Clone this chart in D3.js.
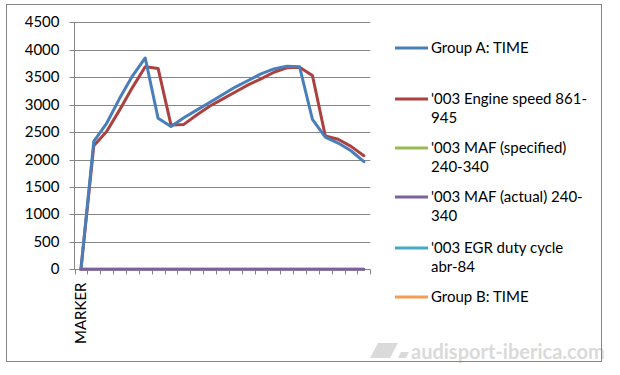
<!DOCTYPE html>
<html><head><meta charset="utf-8">
<script src="https://cdn.jsdelivr.net/npm/d3@7"></script>
<style>body{margin:0;background:#fff}svg{display:block}text{font-family:Lato,"Open Sans",sans-serif}</style>
</head><body><svg id="c" width="620" height="375"></svg>
<script>
const categories = ["MARKER","","","","","","","","","","","","","","","","","","","","","",""];
const groupATime = [0,2330,2660,3110,3520,3850,2750,2600,2760,2900,3040,3180,3320,3440,3560,3650,3700,3690,2730,2410,2300,2160,1960];
const engineSpeed = [0,2250,2510,2900,3310,3690,3660,2630,2640,2810,2970,3100,3230,3360,3470,3590,3670,3680,3530,2430,2370,2240,2070];
const mafSpecified = [0,0,0,0,0,0,0,0,0,0,0,0,0,0,0,0,0,0,0,0,0,0,0];
const mafActual = [0,0,0,0,0,0,0,0,0,0,0,0,0,0,0,0,0,0,0,0,0,0,0];
const egrDuty = [];
const groupBTime = [];
const yTicks = [0,500,1000,1500,2000,2500,3000,3500,4000,4500];
const seriesNames = ["Group A: TIME","'003 Engine speed 861-|945","'003 MAF (specified)|240-340","'003 MAF (actual) 240-|340","'003 EGR duty cycle|abr-84","Group B: TIME"];
const seriesColors = ["#4A7EBB","#AC423F","#98B954","#7D60A0","#46AAC5","#F59D56"];

const svg = d3.select("#c");
// watermark (behind frame line)
const wm = svg.append("g").attr("fill","#dadada");
wm.append("path").attr("d","M378,343 L398,343 L390,358 L370,358 Z");
wm.append("path").attr("d","M401,352 L409,352 L406,358 L398,358 Z");
wm.append("text").attr("x",411).attr("y",359).attr("font-size",20).attr("font-weight","bold")
  .attr("font-family","'DejaVu Sans'").attr("fill","#dadada").text("audisport-iberica.com");

// outer frame
svg.append("rect").attr("x",6.5).attr("y",4.5).attr("width",595).attr("height",357)
  .attr("fill","none").attr("stroke","#868686");

const x = d3.scaleBand().domain(d3.range(categories.length)).range([74.5,370.3]).paddingInner(0).paddingOuter(0);
const y = d3.scaleLinear().domain([0,4500]).range([269.3,22.3]);

// gridlines
svg.append("g").selectAll("line").data(yTicks.filter(d=>d>0)).join("line")
  .attr("x1",74.5).attr("x2",370.3).attr("y1",d=>Math.round(y(d))+0.5).attr("y2",d=>Math.round(y(d))+0.5)
  .attr("stroke","#868686").attr("stroke-width",1);

// y axis
const ya = svg.append("g").attr("transform","translate(74.5,0)")
  .call(d3.axisLeft(y).tickValues(yTicks).tickSize(5).tickPadding(10).tickFormat(d3.format("d")));
ya.select(".domain").attr("stroke","#868686").attr("d","M0,"+y(4500)+"V"+(Math.round(y(0))+0.5));
ya.selectAll(".tick line").attr("stroke","#868686");
ya.selectAll(".tick").attr("transform",d=>"translate(0,"+(Math.round(y(d))+0.5)+")");
ya.selectAll("text").attr("font-size",15).attr("fill","#000").attr("font-family","Lato");

// x axis
const xa = svg.append("g").attr("transform","translate(0,"+(Math.round(y(0))+0.5)+")")
  .call(d3.axisBottom(x).tickSize(0).tickFormat(i=>categories[i]));
xa.select(".domain").attr("stroke","#868686").attr("d","M74.5,0H370.3");
xa.selectAll(".tick text").attr("font-size",15).attr("fill","#000").attr("font-family","Lato")
  .attr("transform","rotate(-90)").attr("text-anchor","end").attr("dx","-13").attr("dy","0.35em").attr("x",0).attr("y",0);
const bounds = d3.range(categories.length+1).map(i=>i<categories.length?x(i):x.range()[1]);
xa.append("g").selectAll("line").data(bounds).join("line")
  .attr("x1",d=>Math.round(d)+0.5).attr("x2",d=>Math.round(d)+0.5).attr("y1",0).attr("y2",5).attr("stroke","#868686");

const line = d3.line().defined(d=>d!=null).x((d,i)=>x(i)+x.bandwidth()/2).y(d=>y(d));
const drawOrder = [[engineSpeed,1],[groupATime,0],[groupBTime,5],[egrDuty,4],[mafSpecified,2],[mafActual,3]];
drawOrder.forEach(([vals,k])=>{
  if(!vals.length) return;
  svg.append("path").datum(vals).attr("d",line).attr("fill","none")
    .attr("stroke",seriesColors[k]).attr("stroke-width",3).attr("stroke-linejoin","round").attr("stroke-linecap","round");
});

// legend
const legY = [48,99,148,197,248,297];
const lg = svg.append("g");
seriesNames.forEach((n,k)=>{
  lg.append("line").attr("x1",395).attr("x2",428).attr("y1",legY[k]).attr("y2",legY[k])
    .attr("stroke",seriesColors[k]).attr("stroke-width",3);
  const t = lg.append("text").attr("x",431).attr("y",legY[k]).attr("font-size",15).attr("fill","#000").attr("font-family","Lato");
  n.split("|").forEach((s,j)=>t.append("tspan").attr("x",431).attr("dy",j===0?"0.35em":"19").text(s));
});
</script></body></html>
